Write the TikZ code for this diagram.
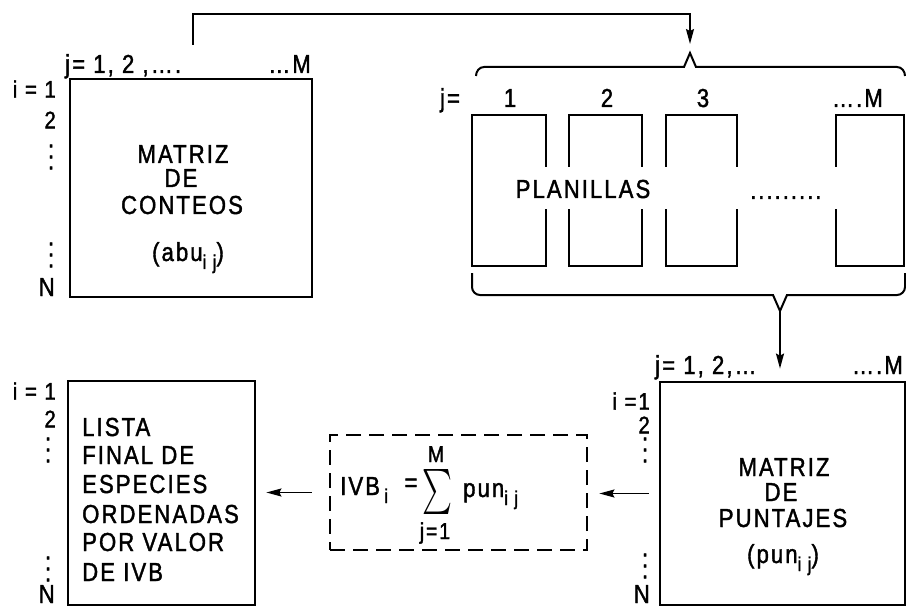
\documentclass[tikz,border=0pt]{standalone}
\usepackage{fontspec}
\setmainfont{Liberation Sans}[FakeStretch=0.85,LetterSpace=8,FakeBold=1.5]
\usepackage{graphicx}
\usetikzlibrary{arrows.meta}
\newcommand\sbs[1]{\raisebox{-8pt}{\fontsize{20}{20}\selectfont #1}}
\newcommand\dd{.\kern2pt}
\newcommand\vdt{\vbox{\baselineskip=11pt\lineskiplimit=0pt\hbox{.}\hbox{.}\hbox{.}}}
\begin{document}
\begin{tikzpicture}[x=1pt,y=-1pt,
  box/.style={draw, line width=2.8pt, inner sep=0pt},
  lbl/.style={inner sep=0pt, font=\fontsize{26}{28}\selectfont},
  ilbl/.style={inner sep=0pt, font=\fontsize{24}{26}\selectfont},
  small/.style={inner sep=0pt, font=\fontsize{23}{25}\selectfont},
  vd/.style={inner sep=0pt, font=\fontsize{26}{11}\selectfont},
  arr/.style={-{Stealth[length=15pt,width=8pt,inset=2pt]}, line width=1.6pt},
  brace/.style={line width=2pt}]
\useasboundingbox (0,0) rectangle (906,607);

% ---------- top-left: matriz de conteos ----------
\node[box, minimum width=242pt, minimum height=218pt] (conteos) at (191,188) {};
\node[lbl, anchor=base] (c1) at (183,163) {MATRIZ};
\node[lbl, anchor=base] (c2) at (181,187) {DE};
\node[lbl, anchor=base] (c3) at (182,214) {CONTEOS};
\node[lbl, anchor=base] (c4) at (188,261) {(abu\sbs{i j})};
\node[lbl, anchor=base west] (cj) at (65,73) {j= 1, 2 ,\dots.};
\node[lbl, anchor=base east] (cm) at (311,73) {\dots M};
\node[ilbl, anchor=east] (ci1) at (56,89) {i = 1};
\node[ilbl, anchor=east] (ci2) at (56,120) {2};
\node[vd] (cd1) at (51,157) {\vdt};
\node[vd] (cd2) at (51,255) {\vdt};
\node[lbl, anchor=base east] (cn) at (55,296) {N};

% ---------- top-right: planillas ----------
\node[box, minimum width=74pt, minimum height=151pt] (p1) at (509,190.5) {};
\node[box, minimum width=73pt, minimum height=151pt] (p2) at (605.5,190.5) {};
\node[box, minimum width=71pt, minimum height=151pt] (p3) at (701.5,190.5) {};
\node[box, minimum width=68pt, minimum height=151pt] (p4) at (870,190.5) {};
\fill[white] (498,167) rectangle (848,209);
\node[lbl, anchor=base] (pl) at (583,198) {PLANILLAS};
\node[lbl, anchor=base west] (pdots) at (750,199) {\dd\dd\dd\dd\dd\dd\dd\dd\dd};
\node[lbl, anchor=base] (pj) at (450,107) {j=};
\node[lbl, anchor=base] (pj1) at (510,107) {1};
\node[lbl, anchor=base] (pj2) at (607,107) {2};
\node[lbl, anchor=base] (pj3) at (703,107) {3};
\node[lbl, anchor=base east] (pjm) at (883,107) {\dots.M};

% braces
\coordinate (tb) at (690,53);
\coordinate (bb) at (780,311);
\draw[brace] (476,76) to[out=90,in=180] (484,67) -- (684,67) -- (tb) -- (696,67)
  -- (897,67) to[out=0,in=90] (905,76);
\draw[brace] (472,273) -- (472,287) to[out=-90,in=180] (480,295) -- (773,295) -- (bb)
  -- (787,295) -- (897,295) to[out=0,in=-90] (905,287) -- (905,273);

% ---------- bottom-right: matriz de puntajes ----------
\node[box, minimum width=245pt, minimum height=223pt] (puntajes) at (782.5,493.5) {};
\node[lbl, anchor=base] (u1) at (784,476) {MATRIZ};
\node[lbl, anchor=base] (u2) at (781,501) {DE};
\node[lbl, anchor=base] (u3) at (783,527) {PUNTAJES};
\node[lbl, anchor=base] (u4) at (783,563) {(pun\sbs{i j})};
\node[lbl, anchor=base west] (uj) at (655,374) {j= 1, 2,\dots};
\node[lbl, anchor=base east] (um) at (903,374) {\dots.M};
\node[ilbl, anchor=east] (ui1) at (650,401) {i =1};
\node[ilbl, anchor=east] (ui2) at (650,425) {2};
\node[vd] (ud1) at (645,450) {\vdt};
\node[vd] (ud2) at (645,566) {\vdt};
\node[lbl, anchor=base east] (un) at (650,603) {N};

% ---------- dashed formula box ----------
\node[box, dash pattern=on 15pt off 8pt, minimum width=257pt, minimum height=115pt] (sumbox) at (458.5,492.5) {};
\node[lbl, anchor=base west] (ivb) at (340,495) {IVB\,\sbs{i}};
\node[lbl] (eq) at (411,485) {=};
\node[inner sep=0pt] (sig) at (437.5,491.5) {\resizebox*{30pt}{45pt}{$\sum$}};
\node[small, anchor=base] (sm) at (436,462) {M};
\node[small, anchor=base] (sj) at (435,539) {j=1};
\node[lbl, anchor=base west] (spun) at (463,497) {pun\sbs{i j}};

% ---------- bottom-left: lista final ----------
\node[box, minimum width=187pt, minimum height=224pt] (lista) at (161.5,493) {};
\node[lbl, anchor=base west] (l1) at (82,436) {LISTA};
\node[lbl, anchor=base west] (l2) at (82,464) {FINAL DE};
\node[lbl, anchor=base west] (l3) at (82,493) {ESPECIES};
\node[lbl, anchor=base west] (l4) at (82,523) {ORDENADAS};
\node[lbl, anchor=base west] (l5) at (82,551) {POR VALOR};
\node[lbl, anchor=base west] (l6) at (82,581) {DE IVB};
\node[ilbl, anchor=east] (li1) at (56,391) {i = 1};
\node[ilbl, anchor=east] (li2) at (56,419) {2};
\node[vd] (ld1) at (48,450) {\vdt};
\node[vd] (ld2) at (48,569) {\vdt};
\node[lbl, anchor=base east] (ln) at (55,603) {N};

% ---------- connectors ----------
\coordinate (cs) at (193,45);
\draw[arr, shorten >=9pt] (cs) -- ++(0,-31) -| (tb);
\draw[arr, shorten >=12pt] (bb) -- (bb |- puntajes.north);
\draw[arr, shorten <=10pt, shorten >=11pt] (puntajes.west) -- (puntajes.west -| sumbox.east);
\draw[arr, shorten <=17pt, shorten >=10pt] (sumbox.west) -- (sumbox.west -| lista.east);
\end{tikzpicture}
\end{document}
